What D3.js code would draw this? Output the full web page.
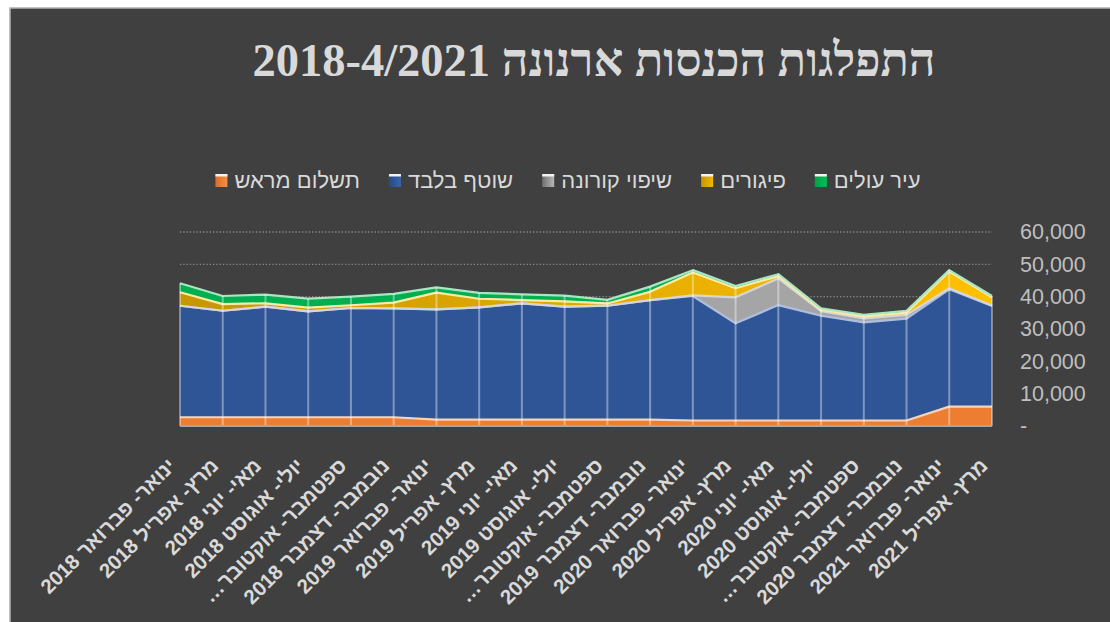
<!DOCTYPE html>
<html>
<head>
<meta charset="utf-8">
<script src="https://cdn.jsdelivr.net/npm/d3@7"></script>
<style>
  body { margin: 0; background: #fff; }
  svg { display: block; }
</style>
</head>
<body>
<div id="chart"></div>
<script>
// categories (bi-monthly periods)
const periods = [
    "ינואר- פברואר 2018", "מרץ- אפריל 2018", "מאי- יוני 2018", "יולי- אוגוסט 2018",
    "ספטמבר- אוקטובר 2018", "נובמבר- דצמבר 2018", "ינואר- פברואר 2019", "מרץ- אפריל 2019",
    "מאי- יוני 2019", "יולי- אוגוסט 2019", "ספטמבר- אוקטובר 2019", "נובמבר- דצמבר 2019",
    "ינואר- פברואר 2020", "מרץ- אפריל 2020", "מאי- יוני 2020", "יולי- אוגוסט 2020",
    "ספטמבר- אוקטובר 2020", "נובמבר- דצמבר 2020", "ינואר- פברואר 2021", "מרץ- אפריל 2021"
];
// tick labels as shown (long ones are cut)
const tickLabels = [
    "ינואר- פברואר 2018", "מרץ- אפריל 2018", "מאי- יוני 2018", "יולי- אוגוסט 2018",
    "…ספטמבר- אוקטובר", "נובמבר- דצמבר 2018", "ינואר- פברואר 2019", "מרץ- אפריל 2019",
    "מאי- יוני 2019", "יולי- אוגוסט 2019", "…ספטמבר- אוקטובר", "נובמבר- דצמבר 2019",
    "ינואר- פברואר 2020", "מרץ- אפריל 2020", "מאי- יוני 2020", "יולי- אוגוסט 2020",
    "…ספטמבר- אוקטובר", "נובמבר- דצמבר 2020", "ינואר- פברואר 2021", "מרץ- אפריל 2021"
];

// series values
const prepaid = [2700, 2700, 2700, 2700, 2700, 2700, 1950, 1950, 1950, 1950, 1950, 1950, 1700, 1700, 1700, 1700, 1700, 1700, 6000, 6000];
const current = [34500, 32950, 34200, 32750, 33800, 33700, 34150, 34750, 36000, 34950, 35250, 37000, 38500, 30050, 35700, 32400, 30350, 31500, 36300, 31100];
const corona  = [0, 0, 0, 0, 0, 0, 0, 0, 0, 0, 0, 0, 200, 8050, 8250, 1450, 1250, 1150, 300, 200];
const arrears = [4150, 2050, 1050, 1150, 850, 1750, 5150, 2650, 1000, 1650, 700, 2550, 7100, 2800, 700, 400, 600, 700, 5200, 2500];
const olim    = [2800, 2500, 2700, 2800, 2650, 2700, 1600, 1850, 1750, 1750, 1100, 1600, 700, 700, 600, 450, 500, 600, 400, 400];

const seriesNames = ["תשלום מראש", "שוטף בלבד", "שיפוי קורונה", "פיגורים", "עיר עולים"];
const yTicks = [0, 10000, 20000, 30000, 40000, 50000, 60000];

const keys = ["prepaid", "current", "corona", "arrears", "olim"];
const fills = ["#ed7d31", "#2f5597", "#a5a5a5", "url(#goldGrad)", "#00b050"];
const edges = ["#f8d3b8", "#aebee0", "#d6d6d6", "#ffe9a6", "#a6e6c0"];

const rows = periods.map((p, i) => ({
    period: p,
    prepaid: prepaid[i],
    current: current[i],
    corona: corona[i],
    arrears: arrears[i],
    olim: olim[i]
}));

const width = 1110, height = 622;

const svg = d3.select("#chart")
    .append("svg")
    .attr("width", width)
    .attr("height", height);

const defs = svg.append("defs");
const gold = defs.append("linearGradient")
    .attr("id", "goldGrad")
    .attr("gradientUnits", "userSpaceOnUse")
    .attr("x1", 180).attr("x2", 992).attr("y1", 0).attr("y2", 0);
gold.append("stop").attr("offset", 0).attr("stop-color", "#c69600");
gold.append("stop").attr("offset", 1).attr("stop-color", "#ffc000");

// legend swatch gradients
const swatchCols = [["#e06b1f", "#f4904c"], ["#264a8a", "#3a63aa"], ["#6f6f6f", "#b8b8b8"], ["#c69600", "#f2b800"], ["#00a048", "#00c058"]];
swatchCols.forEach((c, i) => {
    const g = defs.append("linearGradient").attr("id", "sw" + i);
    g.append("stop").attr("offset", 0).attr("stop-color", c[0]);
    g.append("stop").attr("offset", 1).attr("stop-color", c[1]);
});

// chart background
svg.append("rect")
    .attr("x", 10).attr("y", 8)
    .attr("width", width).attr("height", height)
    .attr("fill", "#404040")
    .attr("stroke", "#b0b0b0")
    .attr("stroke-width", 1.5);

// title
svg.append("text")
    .attr("x", 594).attr("y", 76)
    .attr("text-anchor", "middle")
    .attr("font-family", "Liberation Serif, serif")
    .attr("font-weight", "bold")
    .attr("font-size", 46.5)
    .attr("fill", "#d9d9d9")
    .text("התפלגות הכנסות ארנונה 2018-4/2021");

// scales
const x = d3.scalePoint().domain(periods).range([180, 992]);
const y = d3.scaleLinear().domain([0, 60000]).range([426, 232]);

// gridlines
svg.append("g")
    .selectAll("line")
    .data(yTicks.filter(d => d > 0))
    .enter()
    .append("line")
    .attr("x1", 180).attr("x2", 992)
    .attr("y1", d => y(d)).attr("y2", d => y(d))
    .attr("stroke", "#8a8a8a")
    .attr("stroke-width", 1.3)
    .attr("stroke-dasharray", "1.3,2");

// stacked areas
const stacked = d3.stack().keys(keys)(rows);

const area = d3.area()
    .x(d => x(d.data.period))
    .y0(d => y(d[0]))
    .y1(d => y(d[1]));

const topLine = d3.line()
    .x(d => x(d.data.period))
    .y(d => y(d[1]));

svg.append("g")
    .selectAll("path")
    .data(stacked)
    .enter()
    .append("path")
    .attr("fill", (d, i) => fills[i])
    .attr("d", area);

svg.append("g")
    .selectAll("path")
    .data(stacked)
    .enter()
    .append("path")
    .attr("fill", "none")
    .attr("stroke", (d, i) => edges[i])
    .attr("stroke-width", 2.2)
    .attr("stroke-linejoin", "round")
    .attr("d", topLine);

// drop lines at each category
const last = stacked[stacked.length - 1];
svg.append("g")
    .selectAll("line")
    .data(last)
    .enter()
    .append("line")
    .attr("x1", d => x(d.data.period)).attr("x2", d => x(d.data.period))
    .attr("y1", y(0)).attr("y2", d => y(d[1]))
    .attr("stroke", "rgba(255,255,255,0.38)")
    .attr("stroke-width", 2);

// x axis line
svg.append("line")
    .attr("x1", 180).attr("x2", 992)
    .attr("y1", y(0)).attr("y2", y(0))
    .attr("stroke", "#a6a6a6")
    .attr("stroke-width", 2);

// x labels
svg.append("g")
    .selectAll("text")
    .data(periods)
    .enter()
    .append("text")
    .attr("transform", d => `translate(${x(d) - 3}, 467) rotate(-45)`)
    .attr("text-anchor", "end")
    .attr("font-family", "Liberation Sans, Arial, sans-serif")
    .attr("font-weight", "bold")
    .attr("font-size", 20.5)
    .attr("fill", "#d9d9d9")
    .text((d, i) => tickLabels[i]);

// y axis on the right
const yAxis = svg.append("g")
    .attr("transform", "translate(1020, 0)")
    .call(d3.axisRight(y).tickValues(yTicks).tickSize(0)
        .tickFormat(d => d === 0 ? "-" : d3.format(",")(d)));
yAxis.select(".domain").remove();
yAxis.selectAll("text")
    .attr("x", 0)
    .attr("text-anchor", "start")
    .attr("font-family", "Liberation Sans, Arial, sans-serif")
    .attr("font-size", 21.5)
    .attr("fill", "#bfbfbf");

// legend, laid out right to left: text then swatch
const legend = svg.append("g");
const items = [];
seriesNames.forEach((name, i) => {
    const g = legend.append("g");
    const t = g.append("text")
        .attr("font-family", "Liberation Sans, Arial, sans-serif")
        .attr("font-size", 22)
        .attr("fill", "#d9d9d9")
        .attr("text-anchor", "end")
        .attr("y", 188)
        .text(name);
    g.append("rect")
        .attr("width", 12).attr("height", 13)
        .attr("y", 174)
        .attr("fill", "url(#sw" + i + ")");
    g.append("rect")
        .attr("width", 12).attr("height", 2.5)
        .attr("y", 174)
        .attr("fill", "#f2f2f2");
    items.push({g: g, t: t, w: t.node().getComputedTextLength()});
});
const gapIn = 7, gapOut = 29, sw = 12;
let total = 0;
items.forEach((it, k) => { total += it.w + gapIn + sw + (k > 0 ? gapOut : 0); });
let right = 568 + total / 2;
// order from right: last series first
for (let k = items.length - 1; k >= 0; k--) {
    const it = items[k];
    it.t.attr("x", right);
    const sx = right - it.w - gapIn - sw;
    it.g.selectAll("rect").attr("x", sx);
    right = sx - gapOut;
}
</script>
</body>
</html>
